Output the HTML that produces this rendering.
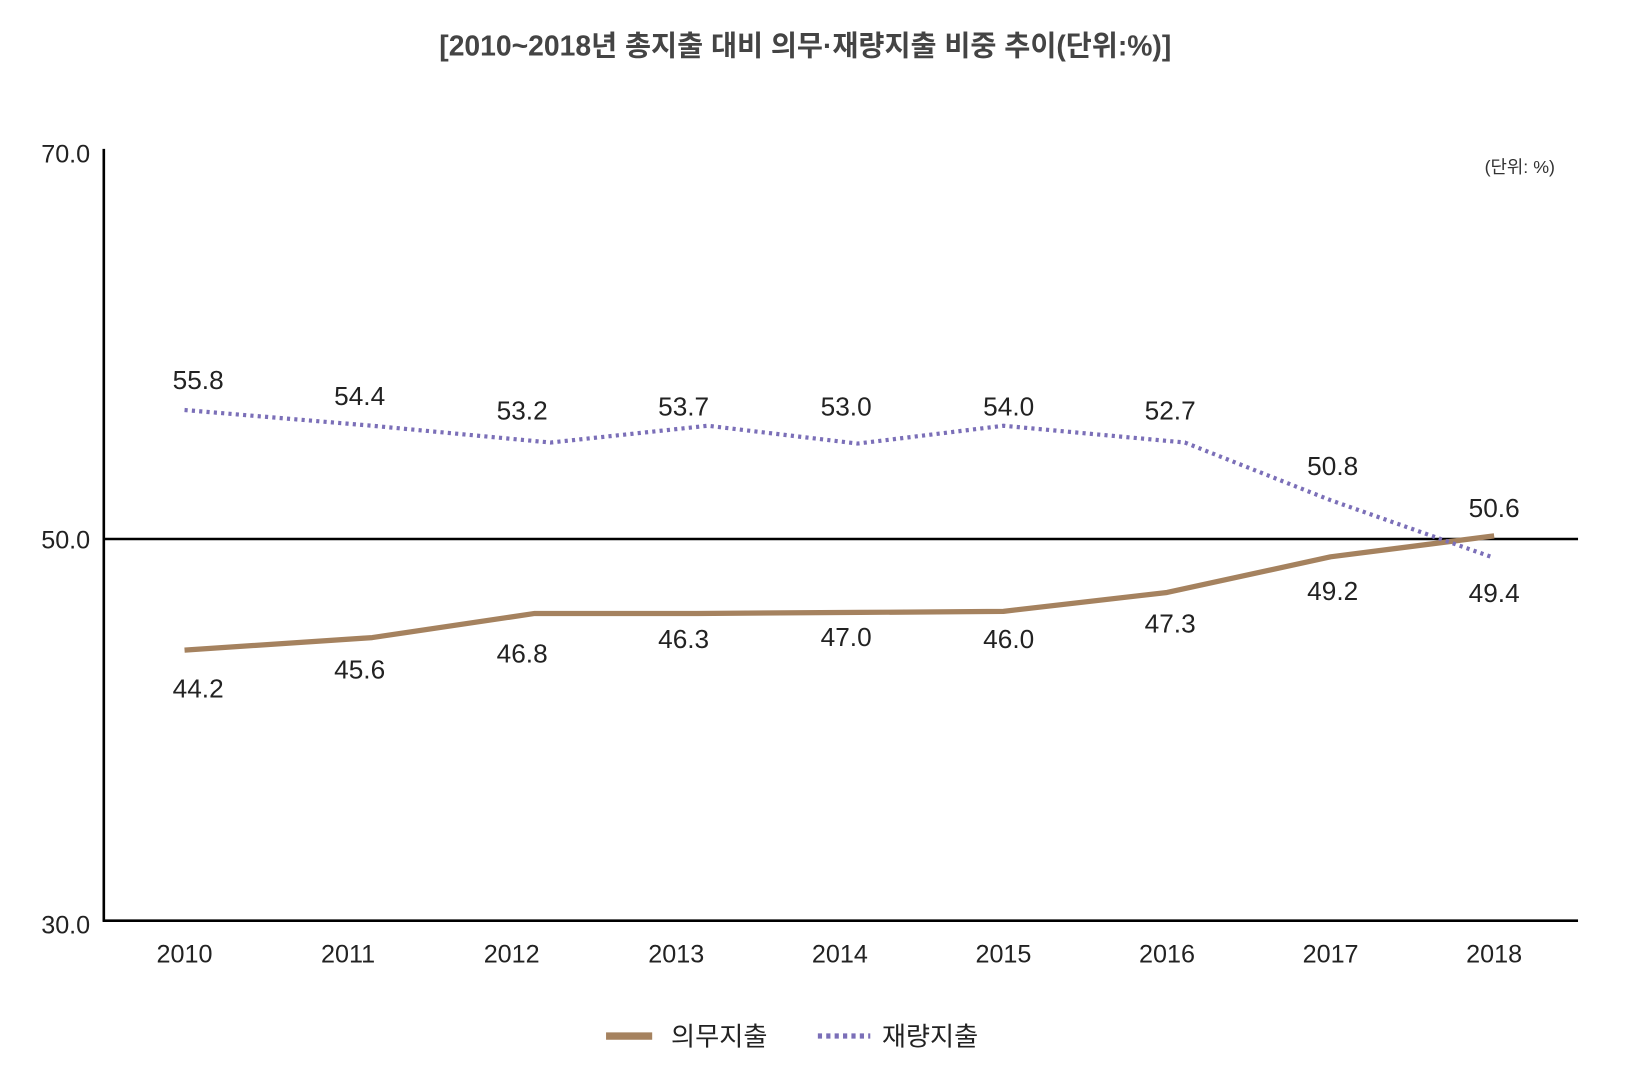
<!DOCTYPE html>
<html><head><meta charset="utf-8"><style>
html,body{margin:0;padding:0;background:#fff;}
svg{display:block;}
text{font-family:"Liberation Sans","Noto Sans CJK KR",sans-serif;}
</style></head><body>
<svg width="1642" height="1078" viewBox="0 0 1566 1028" preserveAspectRatio="none">
<rect width="1566" height="1028" fill="#fff"/>
<text x="768" y="53" text-anchor="middle" font-size="27" font-weight="bold" fill="#444">[2010~2018년 총지출 대비 의무·재량지출 비중 추이(단위:%)]</text>
<line x1="99" y1="142" x2="99" y2="879" stroke="#000" stroke-width="2.5"/>
<line x1="98" y1="878" x2="1505" y2="878" stroke="#000" stroke-width="2.5"/>
<line x1="98" y1="514" x2="1505" y2="514" stroke="#000" stroke-width="2.5"/>
<g font-size="24" fill="#222" text-anchor="end">
<text x="86" y="155">70.0</text><text x="86" y="523">50.0</text><text x="86" y="890">30.0</text>
</g>
<text x="1483" y="165" font-size="17" fill="#333" text-anchor="end">(단위: %)</text>
<g font-size="24" fill="#222" text-anchor="middle">
<text x="176" y="918">2010</text><text x="332" y="918">2011</text><text x="488" y="918">2012</text><text x="645" y="918">2013</text><text x="801" y="918">2014</text><text x="957" y="918">2015</text><text x="1113" y="918">2016</text><text x="1269" y="918">2017</text><text x="1425" y="918">2018</text>
</g>
<polyline fill="none" stroke="#a5825f" stroke-width="5" stroke-linejoin="round" points="176,620 355,608 510,585 665,585 820,584 957,583 1113,565 1269,531 1425,511"/>
<polyline fill="none" stroke="#7b6fb8" stroke-width="4" stroke-dasharray="3,4" points="176,391 355,406 525,422 675,406 818,423 957,406 1130,422 1269,477 1425,532"/>
<g font-size="25" fill="#222" text-anchor="middle">
<text x="189" y="371">55.8</text><text x="343" y="386">54.4</text><text x="498" y="400">53.2</text><text x="652" y="396">53.7</text><text x="807" y="396">53.0</text><text x="962" y="396">54.0</text><text x="1116" y="400">52.7</text><text x="1271" y="453">50.8</text><text x="1425" y="493">50.6</text>
<text x="189" y="665">44.2</text><text x="343" y="647">45.6</text><text x="498" y="632">46.8</text><text x="652" y="618">46.3</text><text x="807" y="616">47.0</text><text x="962" y="618">46.0</text><text x="1116" y="603">47.3</text><text x="1271" y="572">49.2</text><text x="1425" y="574">49.4</text>
</g>
<line x1="578" y1="988" x2="622" y2="988" stroke="#a5825f" stroke-width="7"/>
<text x="640" y="997" font-size="25" fill="#222">의무지출</text>
<line x1="780" y1="988" x2="830" y2="988" stroke="#7b6fb8" stroke-width="5" stroke-dasharray="4,4"/>
<text x="841" y="997" font-size="25" fill="#222">재량지출</text>
</svg>
</body></html>
